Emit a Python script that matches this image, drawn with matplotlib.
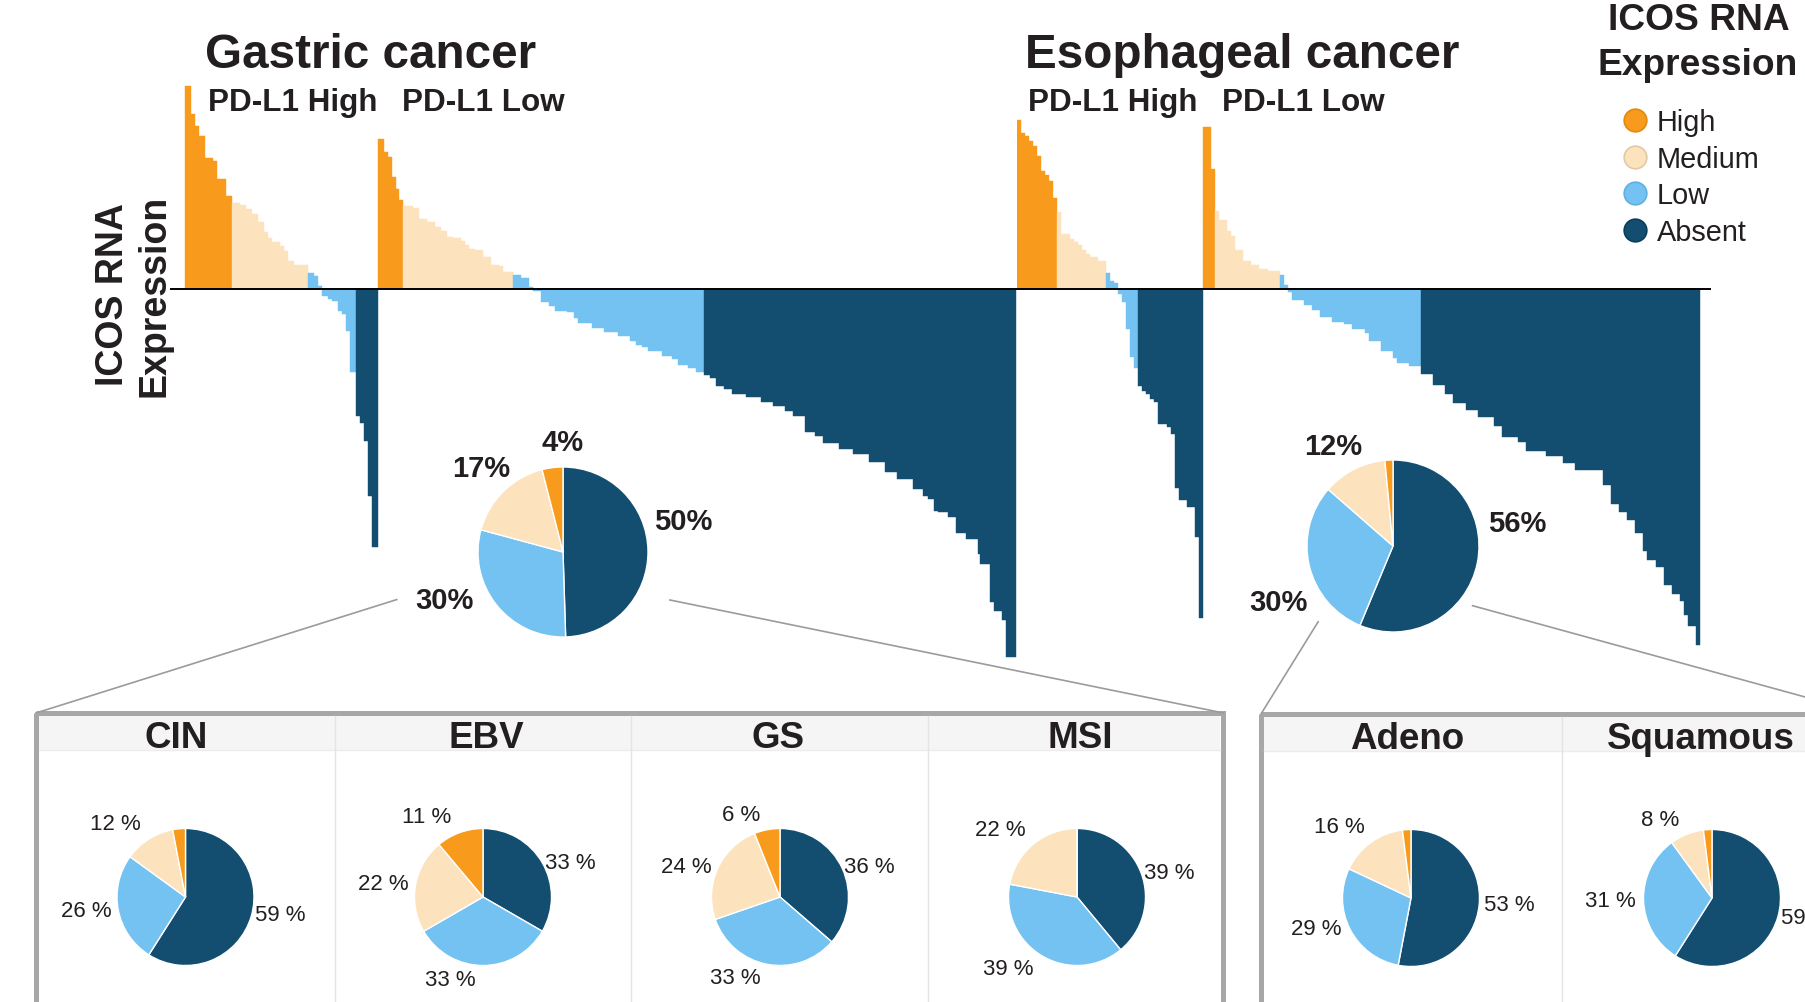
import numpy as np
import matplotlib.pyplot as plt
from matplotlib import font_manager
from matplotlib.lines import Line2D
from matplotlib.patches import Rectangle

plt.rcParams["font.family"] = ["Liberation Sans", "DejaVu Sans"]

W, H = 1806, 1003
INK = "#231F20"

COLORS = {"High": "#F89B1C", "Medium": "#FCE2BD", "Low": "#73C2F2", "Absent": "#134E70"}
RIMS = {"High": "#E0890F", "Medium": "#E3C9A3", "Low": "#5FB0E3", "Absent": "#0D3C58"}
LEGEND_ORDER = ["High", "Medium", "Low", "Absent"]
PIE_ORDER = ["Absent", "Low", "Medium", "High"]

# ICOS RNA expression per tumour (relative units), sorted inside each PD-L1 group.
# Runs of equal values: (level, values, number of tumours per value)
gastric_pdl1_high = [
    ("High", [20.3, 17.5, 16.3, 15.3, 13.1, 12.8, 11.0, 9.3],
             [3, 2, 2, 3, 4, 2, 5, 3]),
    ("Medium", [8.6, 8.4, 8.0, 7.5, 6.7, 5.7, 5.1, 4.7, 4.3, 3.8, 2.8, 2.4],
               [4, 3, 3, 3, 3, 2, 2, 4, 2, 2, 3, 7]),
    ("Low", [1.6, 1.3, 0.3, -0.7, -1.0, -1.2, -2.2, -2.5, -4.2, -8.3],
            [3, 2, 2, 3, 2, 3, 2, 2, 2, 3]),
    ("Absent", [-12.7, -13.4, -15.2, -20.7, -25.8],
               [2, 2, 2, 2, 3]),
]
gastric_pdl1_low = [
    ("High", [15.0, 13.7, 13.2, 11.2, 10.0, 8.9],
             [3, 2, 2, 2, 2, 2]),
    ("Medium", [8.3, 8.1, 7.0, 6.7, 6.2, 5.8, 5.2, 5.1, 4.8, 4.4, 4.0, 3.9, 3.2, 2.4, 2.3, 1.7],
               [5, 3, 4, 4, 3, 3, 3, 4, 2, 2, 3, 4, 4, 4, 2, 5]),
    ("Low", [1.4, 1.1, 0.2, -0.2, -1.3, -1.7, -2.2, -2.3, -2.9, -3.4, -3.9, -4.3, -4.7,
             -5.2, -5.6, -5.8, -6.2, -6.7, -7.0, -7.6, -7.9, -8.3],
            [4, 4, 2, 4, 4, 3, 6, 4, 2, 7, 6, 7, 6, 3, 3, 3, 7, 5, 3, 5, 4, 4]),
    ("Absent", [-8.6, -8.9, -9.7, -10.0, -10.5, -10.8, -11.3, -11.7, -12.2, -12.7, -14.3,
                -14.7, -15.4, -16.0, -16.5, -17.3, -18.3, -19.0, -20.0, -20.7, -21.0, -22.2,
                -22.3, -22.8, -24.4, -25.0, -26.5, -27.5, -31.3, -32.2, -33.1, -36.8],
               [3, 3, 4, 4, 7, 8, 6, 6, 4, 6, 5, 4, 8, 7, 8, 8, 6, 8, 5, 3, 3, 2, 5, 4, 5,
                6, 1, 5, 2, 4, 2, 5]),
]
esoph_pdl1_high = [
    ("High", [16.9, 15.6, 15.3, 14.8, 14.3, 13.3, 11.8, 11.4, 10.8, 9.1],
             [1, 1, 1, 1, 1, 1, 1, 1, 1, 1]),
    ("Medium", [7.7, 5.5, 5.0, 4.7, 4.4, 3.9, 3.5, 3.2, 2.8],
               [1, 2, 1, 1, 1, 1, 1, 2, 2]),
    ("Low", [1.6, 0.8, 0.6, -0.5, -1.3, -4.0, -6.8, -7.9],
            [1, 1, 1, 1, 1, 1, 1, 1]),
    ("Absent", [-9.7, -10.2, -10.5, -11.0, -11.3, -13.5, -13.8, -14.5, -19.9, -21.1,
                -21.8, -24.8, -32.9],
               [1, 1, 1, 1, 1, 2, 1, 1, 1, 2, 2, 1, 1]),
]
esoph_pdl1_low = [
    ("High", [16.2, 12.0], [2, 1]),
    ("Medium", [7.8, 6.9, 5.8, 5.3, 3.9, 2.8, 2.4, 2.0, 1.8],
               [1, 2, 1, 1, 2, 2, 2, 2, 3]),
    ("Low", [1.4, 0.4, -0.3, -1.1, -1.6, -2.1, -2.8, -3.3, -3.5, -4.0, -4.4, -5.2, -6.2,
             -6.9, -7.4, -7.7],
            [1, 1, 1, 3, 2, 2, 3, 3, 2, 3, 1, 3, 3, 1, 3, 3]),
    ("Absent", [-8.5, -9.6, -10.5, -11.4, -12.1, -12.8, -13.7, -14.8, -15.3, -16.2, -16.7,
                -17.4, -18.1, -19.6, -21.5, -22.3, -23.1, -24.4, -26.2, -27.1, -27.8, -29.6,
                -30.5, -31.2, -32.6, -33.7, -35.6],
               [3, 3, 2, 3, 3, 4, 2, 4, 2, 5, 4, 3, 7, 2, 2, 2, 2, 2, 1, 2, 2, 2, 2, 1, 1,
                2, 1]),
]

# share of tumours per ICOS level (%), ordered Absent, Low, Medium, High
gastric_pie = [50, 30, 17, 4]
esoph_pie = [56, 30, 12, 1.5]
gastric_subtypes = ["CIN", "EBV", "GS", "MSI"]
gastric_subtype_pies = [[59, 26, 12, 3], [33, 33, 22, 11], [36, 33, 24, 6], [39, 39, 22, 0]]
esoph_subtypes = ["Adeno", "Squamous"]
esoph_subtype_pies = [[53, 29, 16, 2], [59, 31, 8, 2]]

fig = plt.figure(figsize=(W / 100, H / 100), dpi=100)


def px_rect(x0, y0, x1, y1):
    return [x0 / W, 1 - y1 / H, (x1 - x0) / W, (y1 - y0) / H]


def draw_waterfall(groups, ax_px, bar_px):
    levels, values = [], []
    for group in groups:
        for level, vals, counts in group:
            values.extend(np.repeat(vals, counts))
            levels.extend([level] * sum(counts))
    n = len(values)
    bw = (bar_px[1] - bar_px[0]) / n
    ax = fig.add_axes(px_rect(ax_px[0], 80, ax_px[1], 670))
    cols = [COLORS[l] for l in levels]
    ax.bar(np.arange(n), values, width=1.0, color=cols, edgecolor=cols, linewidth=0.3)
    ax.axhline(0, color="black", lw=1.4, zorder=3)
    ax.set_xlim(-0.5 - (bar_px[0] - ax_px[0]) / bw, n - 0.5 + (ax_px[1] - bar_px[1]) / bw)
    ax.set_ylim(-38, 21)
    ax.axis("off")


def draw_pie(cx, cy, r, values, label_pos, fmt, size, weight):
    pad = 1.05
    ax = fig.add_axes(px_rect(cx - r * pad, cy - r * pad, cx + r * pad, cy + r * pad))
    ax.pie(values, colors=[COLORS[l] for l in PIE_ORDER], startangle=90, counterclock=False,
           wedgeprops=dict(edgecolor="white", linewidth=1.0))
    ax.set_xlim(-pad, pad)
    ax.set_ylim(-pad, pad)
    ax.set_aspect("equal")
    for v, pos in zip(values, label_pos):
        if pos is None:
            continue
        ax.text(pos[0], pos[1], fmt.format(v), ha="center", va="center",
                fontsize=size, fontweight=weight, color=INK)


draw_waterfall([gastric_pdl1_high, gastric_pdl1_low], (170, 1017), (184.7, 1016))
draw_waterfall([esoph_pdl1_high, esoph_pdl1_low], (1017, 1711), (1017, 1700))

draw_pie(563, 553, 85, gastric_pie,
         [(1.42, 0.36), (-1.39, -0.57), (-0.96, 0.99), (-0.01, 1.29)], "{:g}%", 21, "bold")
draw_pie(1393, 547, 86, esoph_pie,
         [(1.45, 0.27), (-1.33, -0.65), (-0.69, 1.16), None], "{:g}%", 21, "bold")

sub_r = 68.5
gastric_sub_x = [185.5, 483, 780, 1077]
gastric_sub_labels = [
    [(1.39, -0.25), (-1.45, -0.20), (-1.02, 1.07), None],
    [(1.28, 0.51), (-0.47, -1.20), (-1.46, 0.19), (-0.82, 1.17)],
    [(1.31, 0.44), (-0.65, -1.17), (-1.37, 0.44), (-0.57, 1.21)],
    [(1.34, 0.36), (-1.01, -1.05), (-1.12, 0.99), None],
]
for x, vals, pos in zip(gastric_sub_x, gastric_subtype_pies, gastric_sub_labels):
    draw_pie(x, 898, sub_r, vals, pos, "{:g} %", 16, "normal")

esoph_sub_x = [1411, 1712]
esoph_sub_labels = [
    [(1.43, -0.10), (-1.39, -0.44), (-1.05, 1.04), None],
    [(1.37, -0.29), (-1.49, -0.03), (-0.76, 1.14), None],
]
for x, vals, pos in zip(esoph_sub_x, esoph_subtype_pies, esoph_sub_labels):
    draw_pie(x, 899, sub_r, vals, pos, "{:g} %", 16, "normal")

# overlay in pixel units for titles, callouts and the subtype panels
ov = fig.add_axes([0, 0, 1, 1])
ov.set_xlim(0, W)
ov.set_ylim(H, 0)
ov.axis("off")

names = {f.name for f in font_manager.fontManager.ttflist}
if "Liberation Sans Narrow" in names:
    title_font, title_size, group_size = "Liberation Sans Narrow", 41.8, 27.5
else:
    title_font, title_size, group_size = "Liberation Sans", 34.3, 22.6

ov.text(205, 67.5, "Gastric cancer", fontsize=title_size, fontweight="bold",
        family=title_font, color=INK, va="baseline")
ov.text(1025, 67.5, "Esophageal cancer", fontsize=title_size, fontweight="bold",
        family=title_font, color=INK, va="baseline")
for x, s in [(208, "PD-L1 High"), (402, "PD-L1 Low"), (1028, "PD-L1 High"), (1222, "PD-L1 Low")]:
    ov.text(x, 111, s, fontsize=group_size, fontweight="bold", family=title_font,
            color=INK, va="baseline")

ov.text(122.6, 294, "ICOS RNA", rotation=90, rotation_mode="anchor", ha="center",
        va="baseline", fontsize=27, fontweight="bold", color=INK)
ov.text(165, 295.5, "Expression", rotation=90, rotation_mode="anchor", ha="center",
        va="baseline", fontsize=27, fontweight="bold", color=INK)

ov.text(1698.7, 30, "ICOS RNA", ha="center", va="baseline", fontsize=26.7,
        fontweight="bold", color=INK)
ov.text(1698, 75, "Expression", ha="center", va="baseline", fontsize=26.7,
        fontweight="bold", color=INK)

handles = [Line2D([], [], marker="o", ls="none", markersize=16.3,
                  markerfacecolor=COLORS[l], markeredgecolor=RIMS[l], markeredgewidth=1.2)
           for l in LEGEND_ORDER]
fig.legend(handles, LEGEND_ORDER, loc="upper left",
           bbox_to_anchor=(1620.25 / W, 1 - 109 / H), frameon=False, fontsize=20.8,
           labelcolor=INK, handlelength=1.0, handletextpad=0.26, labelspacing=0.3,
           borderpad=0, borderaxespad=0)

# callout lines from the cohort pies to the subtype panels
line_kw = dict(color="#9B9B9B", lw=1.2)
ov.plot([396.7, 36], [600.6, 714], **line_kw)
ov.plot([669.9, 1223.5], [601, 714], **line_kw)
ov.plot([1318.2, 1261], [622.7, 715], **line_kw)
ov.plot([1472.6, 1867], [606.7, 715], **line_kw)

# subtype panels
panels = [
    (36, 1223.5, 714, [335, 631, 928]),
    (1261, 1900, 715, [1562]),
]
for x0, x1, top, dividers in panels:
    ov.add_patch(Rectangle((x0 + 3, top + 2.5), x1 - x0 - 6, 34.5,
                           facecolor="#F5F5F5", edgecolor="none"))
    ov.plot([x0 + 3, x1 - 3], [top + 37, top + 37], color="#ECECEC", lw=1)
    for xd in dividers:
        ov.plot([xd, xd], [top + 2.5, H + 10], color="#E4E4E4", lw=1)
    ov.add_patch(Rectangle((x0, top), x1 - x0, 400, fill=False,
                           edgecolor="#A7A7A7", lw=3.6))

for x, s in zip([176.5, 486, 777.6, 1080], gastric_subtypes):
    ov.text(x, 748, s, ha="center", va="baseline", fontsize=26.5, fontweight="bold", color=INK)
for x, s in zip([1407, 1701], esoph_subtypes):
    ov.text(x, 749, s, ha="center", va="baseline", fontsize=26.5, fontweight="bold", color=INK)

fig.savefig("out.png", dpi=100)
